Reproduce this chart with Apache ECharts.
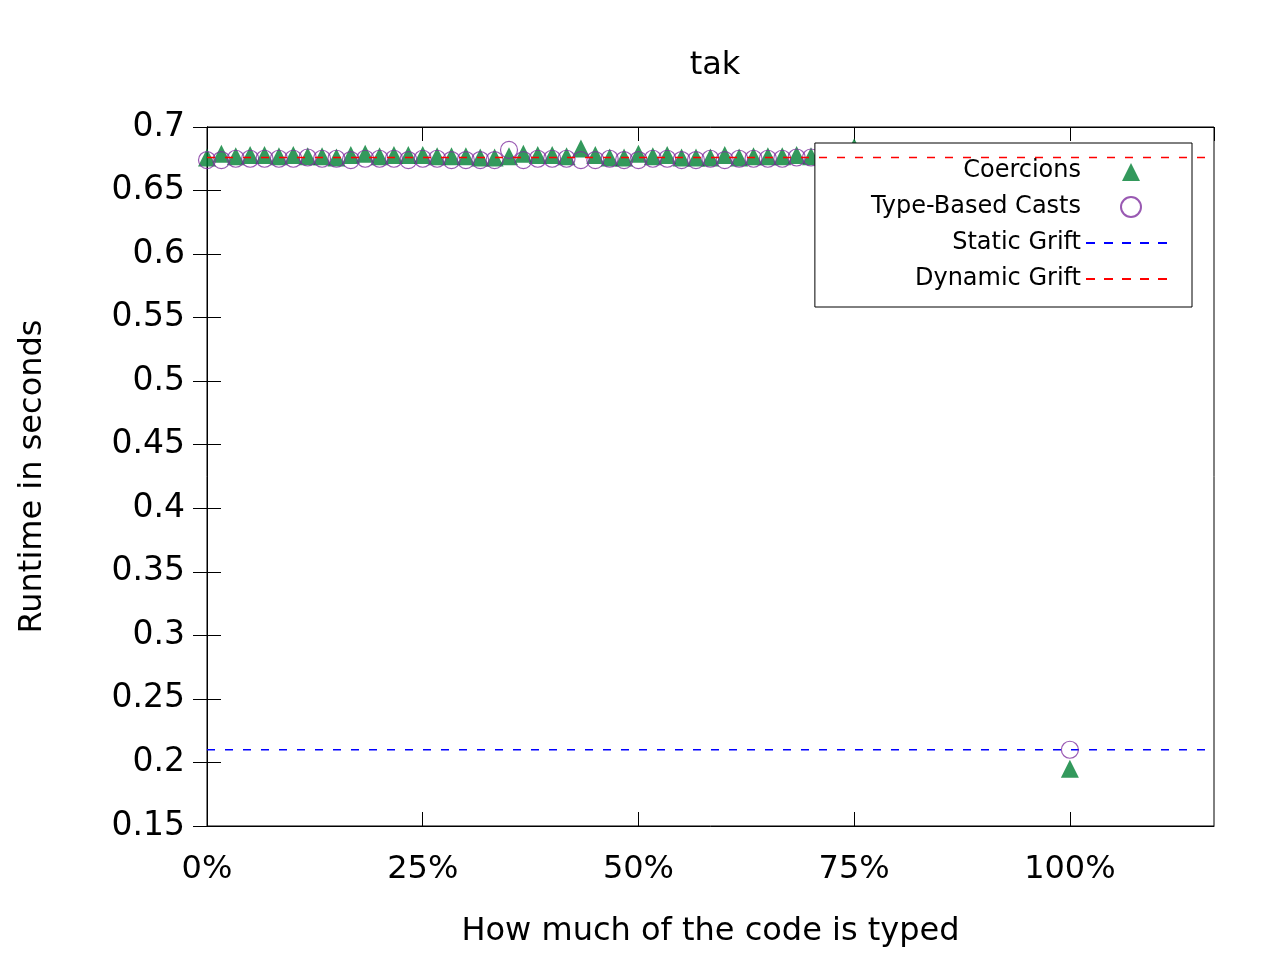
<!DOCTYPE html>
<html>
<head>
<meta charset="utf-8">
<script src="https://cdn.jsdelivr.net/npm/echarts@6/dist/echarts.min.js"></script>
</head>
<body style="margin:0">
<div id="main" style="width:1280px;height:960px;"></div>
<script>
// x positions in percent typed (i/60 steps, plus fully typed)
var xs = [];
for (var i = 0; i <= 45; i++) xs.push(i * 100 / 60);
xs.push(100);
var coercions = [0.676,0.679,0.677,0.678,0.678,0.677,0.678,0.677,0.677,0.676,0.678,0.679,0.677,0.678,0.678,0.678,0.677,0.677,0.677,0.676,0.676,0.677,0.679,0.678,0.678,0.677,0.683,0.678,0.676,0.676,0.679,0.677,0.678,0.676,0.676,0.676,0.678,0.676,0.677,0.677,0.677,0.678,0.677,0.677,0.677,0.684,0.195];
var casts = [0.674,0.674,0.675,0.675,0.675,0.675,0.675,0.676,0.675,0.675,0.674,0.675,0.675,0.675,0.674,0.675,0.675,0.674,0.674,0.674,0.674,0.682,0.674,0.675,0.675,0.675,0.674,0.674,0.675,0.674,0.674,0.675,0.675,0.674,0.674,0.675,0.674,0.675,0.675,0.675,0.675,0.676,0.676,0.676,0.676,0.676,0.21];
var staticGrift = 0.21;
var dynamicGrift = 0.676;
var xMax = 116.7;

function pts(v) { return xs.map(function (x, k) { return [x, v[k]]; }); }
var font = 'DejaVu Sans';
var dashIcon = 'path://M0,9L9,9L9,11L0,11ZM18,9L27,9L27,11L18,11ZM36,9L45,9L45,11L36,11ZM54,9L63,9L63,11L54,11ZM72,9L81,9L81,11L72,11ZM0,0M90,20';
var triIcon = 'path://M0,0M90,20M36,20L45,2L54,20Z';
var tick = { inside: true, length: 14, lineStyle: { color: '#000' } };
var myChart = echarts.init(document.getElementById('main'));
myChart.setOption({
  animation: false,
  title: { text: 'tak', left: 710, top: 45, textAlign: 'center',
    textStyle: { fontFamily: font, fontSize: 32, fontWeight: 'normal', color: '#000' } },
  grid: { left: 207, right: 66, top: 127, bottom: 134, show: true, borderColor: '#000', borderWidth: 1 },
  legend: {
    orient: 'vertical', right: 88, top: 143, align: 'right',
    padding: [16, 16, 16, 56], itemGap: 12, itemWidth: 90, itemHeight: 20,
    backgroundColor: '#fff', borderColor: '#000', borderWidth: 1, borderRadius: 0,
    textStyle: { fontFamily: font, fontSize: 24, color: '#000' },
    data: [
      { name: 'Coercions', icon: triIcon },
      { name: 'Type-Based Casts' },
      { name: 'Static Grift', icon: dashIcon },
      { name: 'Dynamic Grift', icon: dashIcon }
    ]
  },
  xAxis: [{
    type: 'value', min: 0, max: xMax, interval: 25,
    name: 'How much of the code is typed', nameLocation: 'middle', nameGap: 90,
    nameTextStyle: { fontFamily: font, fontSize: 32, color: '#000' },
    axisLine: { lineStyle: { color: '#000' } },
    axisTick: tick,
    axisLabel: { fontFamily: font, fontSize: 32, color: '#000', margin: 28, showMaxLabel: false,
      formatter: function (v) { return v + '%'; } },
    splitLine: { show: false }
  }, {
    type: 'value', position: 'top', min: 0, max: xMax, interval: 25,
    axisLine: { show: true, lineStyle: { color: '#000' } },
    axisTick: tick, axisLabel: { show: false }, splitLine: { show: false }
  }],
  yAxis: [{
    type: 'value', min: 0.15, max: 0.7, interval: 0.05,
    name: 'Runtime in seconds', nameLocation: 'middle', nameGap: 158,
    nameTextStyle: { fontFamily: font, fontSize: 32, color: '#000' },
    axisLine: { show: true, lineStyle: { color: '#000' } },
    axisTick: tick,
    axisLabel: { fontFamily: font, fontSize: 33, color: '#000', margin: 22,
      formatter: function (v) { return +v.toFixed(2) + ''; } },
    splitLine: { show: false }
  }, {
    type: 'value', position: 'right', min: 0.15, max: 0.7, interval: 0.05,
    axisLine: { show: true, lineStyle: { color: '#000' } },
    axisTick: tick, axisLabel: { show: false }, splitLine: { show: false }
  }],
  series: [
    { name: 'Static Grift', type: 'line', symbol: 'none', z: 1,
      data: [[0, staticGrift], [xMax, staticGrift]],
      lineStyle: { color: '#0000ff', type: [8, 10], width: 1.5 }, itemStyle: { color: '#0000ff' } },
    { name: 'Coercions', type: 'scatter', symbol: 'triangle', symbolSize: 18, z: 2,
      data: pts(coercions), itemStyle: { color: '#008033' } },
    { name: 'Type-Based Casts', type: 'scatter', symbol: 'circle', symbolSize: 17, z: 3,
      data: pts(casts), itemStyle: { color: 'rgba(0,0,0,0)', borderColor: '#7f2f9f', borderWidth: 1.2 } },
    { name: 'Dynamic Grift', type: 'line', symbol: 'none', z: 4,
      data: [[0, dynamicGrift], [xMax, dynamicGrift]],
      lineStyle: { color: '#ff0000', type: [8, 10], width: 1.5 }, itemStyle: { color: '#ff0000' } }
  ]
});
</script>
</body>
</html>
